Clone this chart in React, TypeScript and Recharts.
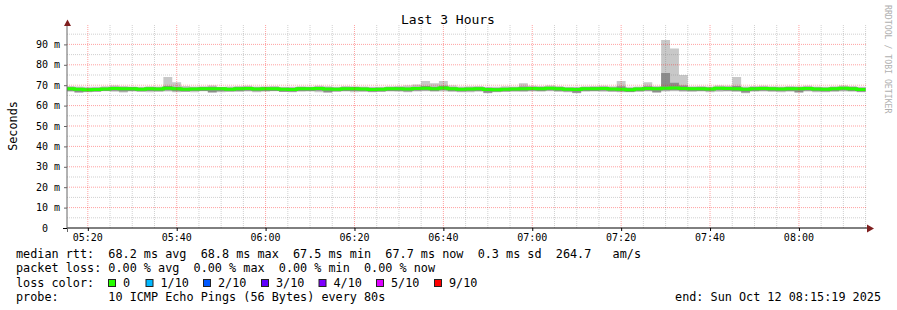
import { Area, ComposedChart, Line, ReferenceLine, XAxis, YAxis } from 'recharts';

const FONT = "'DejaVu Sans Mono', monospace";

// graph window
const graphStart = '05:15:19';
const graphEnd = '08:15:19';

// 2 minute steps (last entry closes the final step)
const times = [
  '05:15', '05:17', '05:19', '05:21', '05:23', '05:25', '05:27', '05:29', '05:31', '05:33',
  '05:35', '05:37', '05:39', '05:41', '05:43', '05:45', '05:47', '05:49', '05:51', '05:53',
  '05:55', '05:57', '05:59', '06:01', '06:03', '06:05', '06:07', '06:09', '06:11', '06:13',
  '06:15', '06:17', '06:19', '06:21', '06:23', '06:25', '06:27', '06:29', '06:31', '06:33',
  '06:35', '06:37', '06:39', '06:41', '06:43', '06:45', '06:47', '06:49', '06:51', '06:53',
  '06:55', '06:57', '06:59', '07:01', '07:03', '07:05', '07:07', '07:09', '07:11', '07:13',
  '07:15', '07:17', '07:19', '07:21', '07:23', '07:25', '07:27', '07:29', '07:31', '07:33',
  '07:35', '07:37', '07:39', '07:41', '07:43', '07:45', '07:47', '07:49', '07:51', '07:53',
  '07:55', '07:57', '07:59', '08:01', '08:03', '08:05', '08:07', '08:09', '08:11', '08:13',
  '08:15',
];

// median rtt in ms
const medianRtt = [
  68.3, 68.0, 67.8, 67.9, 68.1, 68.4, 68.2, 68.3, 68.0, 68.2,
  68.1, 68.5, 68.2, 68.0, 68.1, 68.3, 68.3, 68.2, 68.0, 68.3,
  68.4, 68.1, 68.3, 68.2, 68.0, 67.9, 68.3, 68.2, 68.4, 68.1,
  68.0, 68.2, 68.3, 68.1, 67.9, 68.0, 68.2, 68.3, 68.1, 68.4,
  68.5, 68.3, 68.6, 68.2, 68.0, 68.1, 68.2, 67.9, 67.8, 68.0,
  68.1, 68.2, 68.4, 68.3, 68.5, 68.3, 68.0, 67.9, 68.2, 68.3,
  68.4, 68.1, 68.0, 67.8, 68.1, 68.4, 68.2, 68.5, 68.6, 68.4,
  68.2, 68.3, 68.1, 68.5, 68.4, 68.2, 68.0, 68.3, 68.4, 68.2,
  68.1, 68.3, 68.2, 68.4, 68.1, 68.0, 68.2, 68.5, 68.3, 67.9,
  67.9,
];

// smoke: fastest / slowest ping
const smokeLow = [
  66.8, 66.3, 66.5, 66.7, 67.0, 66.8, 66.4, 66.9, 66.7, 66.6,
  66.8, 66.9, 66.5, 66.7, 66.6, 67.0, 66.3, 66.5, 66.9, 66.7,
  66.9, 66.6, 66.8, 67.0, 66.7, 66.5, 66.8, 66.9, 66.6, 66.3,
  66.7, 66.9, 66.6, 66.8, 66.5, 66.7, 66.9, 66.8, 66.6, 66.9,
  67.0, 66.8, 66.9, 66.7, 66.5, 66.6, 66.8, 66.0, 66.6, 66.8,
  66.9, 66.7, 66.9, 66.8, 67.0, 66.7, 66.5, 66.0, 66.8, 66.9,
  66.8, 66.7, 66.6, 66.5, 66.8, 66.9, 66.3, 66.9, 67.0, 66.8,
  66.7, 66.9, 66.6, 66.8, 66.9, 66.7, 66.1, 66.8, 66.9, 66.7,
  66.6, 66.8, 66.3, 66.9, 66.6, 66.5, 66.7, 66.9, 66.8, 66.6,
  66.6,
];
const smokeHigh = [
  69.6, 69.4, 69.2, 69.3, 69.5, 69.8, 69.6, 69.4, 69.3, 69.5,
  69.4, 74.0, 71.5, 69.6, 69.4, 69.5, 69.8, 69.3, 69.4, 69.6,
  69.7, 69.4, 69.5, 69.6, 69.3, 69.2, 69.5, 69.4, 69.7, 69.5,
  69.3, 69.6, 69.5, 69.4, 69.2, 69.3, 69.5, 69.6, 69.8, 70.3,
  72.0, 71.0, 72.0, 69.8, 69.4, 69.5, 69.6, 69.3, 69.2, 69.5,
  69.4, 71.0, 69.7, 69.6, 69.8, 69.6, 69.3, 69.2, 69.5, 69.6,
  69.7, 69.5, 72.0, 69.2, 69.4, 71.5, 69.6, 92.2, 88.0, 75.0,
  69.5, 69.6, 69.4, 69.8, 69.7, 74.0, 69.4, 69.6, 69.7, 69.5,
  69.4, 69.6, 69.5, 69.7, 69.4, 69.3, 69.5, 69.8, 69.6, 69.3,
  69.3,
];

// inner (darker) smoke band
const darkLow = [
  67.2, 66.5, 66.8, 66.9, 67.1, 67.3, 66.9, 67.2, 67.0, 67.1,
  67.0, 67.4, 67.0, 66.9, 67.1, 67.2, 66.6, 67.0, 66.9, 67.2,
  67.3, 67.0, 67.2, 67.1, 66.8, 66.8, 67.2, 67.1, 67.3, 66.5,
  67.0, 67.1, 67.2, 67.0, 66.8, 66.9, 67.1, 67.2, 66.9, 67.3,
  67.4, 67.2, 67.5, 67.1, 66.9, 67.0, 67.1, 66.3, 66.8, 66.9,
  67.0, 67.1, 67.3, 67.2, 67.4, 67.2, 66.9, 66.3, 67.1, 67.2,
  67.3, 67.0, 66.9, 66.7, 67.0, 67.3, 66.6, 67.4, 67.5, 67.3,
  67.1, 67.2, 67.0, 67.4, 67.3, 67.1, 66.4, 67.2, 67.3, 67.1,
  67.0, 67.2, 66.6, 67.3, 67.0, 66.9, 67.1, 67.4, 67.2, 66.8,
  66.8,
];
const darkHigh = [
  69.0, 68.8, 68.6, 68.7, 68.9, 69.2, 69.0, 69.1, 68.8, 69.0,
  68.9, 69.6, 69.2, 68.8, 68.9, 69.1, 69.2, 69.0, 68.8, 69.1,
  69.2, 68.9, 69.1, 69.0, 68.8, 68.7, 69.1, 69.0, 69.2, 68.9,
  68.8, 69.0, 69.1, 68.9, 68.7, 68.8, 69.0, 69.1, 68.9, 69.3,
  69.6, 69.3, 69.7, 69.0, 68.8, 68.9, 69.0, 68.7, 68.6, 68.8,
  68.9, 69.4, 69.2, 69.1, 69.3, 69.1, 68.8, 68.7, 69.0, 69.1,
  69.2, 68.9, 69.5, 68.6, 68.9, 69.5, 69.0, 76.0, 71.2, 69.8,
  69.0, 69.1, 68.9, 69.3, 69.2, 69.6, 68.8, 69.1, 69.2, 69.0,
  68.9, 69.1, 69.0, 69.2, 68.9, 68.8, 69.0, 69.3, 69.1, 68.7,
  68.7,
];

const timeTicks = ['05:20', '05:40', '06:00', '06:20', '06:40', '07:00', '07:20', '07:40', '08:00'];
const msTicks = [0, 10, 20, 30, 40, 50, 60, 70, 80, 90];

const lossLabels = ['0', '1/10', '2/10', '3/10', '4/10', '5/10', '9/10'];
const lossColors = ['#26ff00', '#00b8ff', '#0059ff', '#5e00ff', '#7e00ff', '#dd00ff', '#ff0000'];
const lossBoxX = [108, 145.5, 203, 261, 318.5, 376, 434];

const toMin = (t: string) => {
  const [h, m, s] = t.split(':').map(Number);
  return h * 60 + m + (s || 0) / 60;
};

const data = times.map((t, i) => ({
  t: toMin(t),
  smoke: [smokeLow[i], smokeHigh[i]],
  dark: [darkLow[i], darkHigh[i]],
  median: medianRtt[i],
}));

const x0 = toMin(graphStart);
const x1 = toMin(graphEnd);

const minorX: number[] = [];
for (let m = 320; m <= x1; m += 5) if (m % 20 !== 0) minorX.push(m);
const minorY = [5, 15, 25, 35, 45, 55, 65, 75, 85, 95];

const GRID = 'rgba(128,128,128,0.37)';
const MGRID = 'rgba(255,0,0,0.37)';

function YTick({ x, y, payload }: any) {
  const v = payload.value;
  return (
    <g>
      <line x1={64} x2={67} y1={y + 0.5} y2={y + 0.5} stroke="#666" />
      <text x={v === 0 ? x - 12 : x} y={y + 3.6} textAnchor="end" fontFamily={FONT} fontSize={10} fill="#000">
        {v === 0 ? '0' : `${v} m`}
      </text>
    </g>
  );
}

function XTick({ x, y, payload }: any) {
  const m = payload.value;
  const label = `${String(Math.floor(m / 60)).padStart(2, '0')}:${String(Math.round(m % 60)).padStart(2, '0')}`;
  return (
    <g>
      <line x1={x + 0.5} x2={x + 0.5} y1={y} y2={y + 3} stroke="#000" />
      <text x={x} y={y + 12.6} textAnchor="middle" fontFamily={FONT} fontSize={10} fill="#000">
        {label}
      </text>
    </g>
  );
}

const pre = { whiteSpace: 'pre' as const };

export default function App() {
  return (
    <div style={{ position: 'relative', width: 897, height: 310, background: '#fff' }}>
      <style>{'body{margin:0}'}</style>
      <div style={{ position: 'absolute', left: 0, top: 0 }}>
        <ComposedChart width={897} height={248} data={data} margin={{ top: 24, right: 30, bottom: 0, left: 0 }}>
          <XAxis
            type="number"
            dataKey="t"
            domain={[x0, x1]}
            allowDataOverflow
            ticks={timeTicks.map(toMin)}
            interval={0}
            tick={<XTick />}
            tickLine={false}
            tickSize={0}
            tickMargin={0}
            height={20}
            axisLine={{ stroke: '#000' }}
          />
          <YAxis
            type="number"
            domain={[0, 100]}
            allowDataOverflow
            ticks={msTicks}
            interval={0}
            tick={<YTick />}
            tickLine={false}
            tickSize={0}
            tickMargin={7}
            width={67}
            axisLine={{ stroke: '#666' }}
          />
          <Area dataKey="smoke" type="stepAfter" stroke="none" fill="#c8c8c8" fillOpacity={1} isAnimationActive={false} dot={false} activeDot={false} />
          <Area dataKey="dark" type="stepAfter" stroke="none" fill="#8c8c8c" fillOpacity={1} isAnimationActive={false} dot={false} activeDot={false} />
          <Line dataKey="median" type="stepAfter" stroke="#26ff00" strokeWidth={3} dot={false} activeDot={false} isAnimationActive={false} />
          {minorY.map((v) => (
            <ReferenceLine key={`gy${v}`} y={v} stroke={GRID} strokeDasharray="1 1" />
          ))}
          {minorX.map((v) => (
            <ReferenceLine key={`gx${v}`} x={v} stroke={GRID} strokeDasharray="1 1" />
          ))}
          {msTicks.filter((v) => v > 0).map((v) => (
            <ReferenceLine key={`my${v}`} y={v} stroke={MGRID} strokeDasharray="1 1" />
          ))}
          {timeTicks.map((t) => (
            <ReferenceLine key={`mx${t}`} x={toMin(t)} stroke={MGRID} strokeDasharray="1 1" />
          ))}
        </ComposedChart>
      </div>
      <svg width={897} height={310} style={{ position: 'absolute', left: 0, top: 0, pointerEvents: 'none' }}>
        <text x={448} y={24} textAnchor="middle" fontFamily={FONT} fontSize={13} fill="#000">
          Last 3 Hours
        </text>
        <text transform="translate(16.5,126) rotate(-90)" textAnchor="middle" fontFamily={FONT} fontSize={11.8} fill="#000">
          Seconds
        </text>
        <text transform="translate(885,5) rotate(90)" fontFamily={FONT} fontSize={8.2} fill="#b0b0b0">
          RRDTOOL / TOBI OETIKER
        </text>
        {/* axis arrows */}
        <line x1={67.5} y1={228} x2={67.5} y2={232} stroke="#666" />
        <line x1={63} y1={228.5} x2={67} y2={228.5} stroke="#000" />
        <polygon points="64,26 71,26 67.5,19.5" fill="#7f1f1f" />
        <polygon points="867,224.5 867,232.5 874,228.5" fill="#7f1f1f" />
        <g fontFamily={FONT} fontSize={11.8} fill="#000">
          <text x={16} y={258} xmlSpace="preserve" style={pre}>median rtt:  68.2 ms avg  68.8 ms max  67.5 ms min  67.7 ms now  0.3 ms sd  264.7   am/s</text>
          <text x={16} y={272.3} xmlSpace="preserve" style={pre}>packet loss: 0.00 % avg  0.00 % max  0.00 % min  0.00 % now</text>
          <text x={16} y={286.7}>loss color:</text>
          {lossLabels.map((l, i) => (
            <g key={l}>
              <rect x={lossBoxX[i] + 0.5} y={279.5} width={7} height={7} fill={lossColors[i]} stroke="#222" />
              <text x={lossBoxX[i] + 15} y={286.7}>{l}</text>
            </g>
          ))}
          <text x={16} y={301} xmlSpace="preserve" style={pre}>probe:       10 ICMP Echo Pings (56 Bytes) every 80s</text>
          <text x={881} y={301} textAnchor="end">end: Sun Oct 12 08:15:19 2025</text>
        </g>
      </svg>
    </div>
  );
}
